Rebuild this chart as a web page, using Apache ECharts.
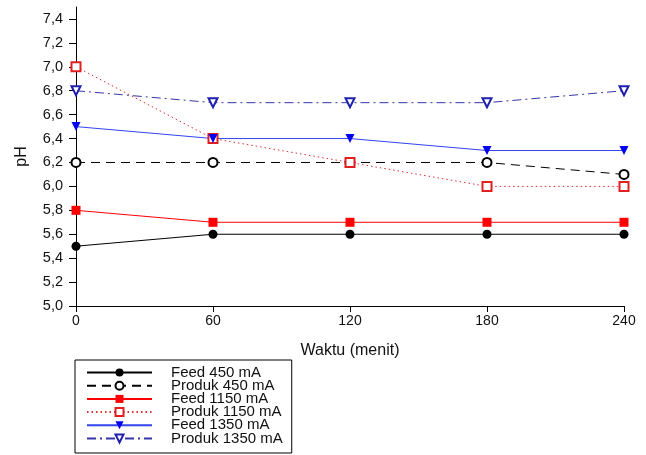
<!DOCTYPE html>
<html>
<head>
<meta charset="utf-8">
<script src="https://cdn.jsdelivr.net/npm/echarts@6/dist/echarts.min.js"></script>
<style>html,body{margin:0;padding:0;background:#fff}#c{width:646px;height:455px}</style>
</head>
<body>
<div id="c"></div>
<script>
const times = [0, 60, 120, 180, 240];
const feed450 = [5.5, 5.6, 5.6, 5.6, 5.6];
const produk450 = [6.2, 6.2, 6.2, 6.2, 6.1];
const feed1150 = [5.8, 5.7, 5.7, 5.7, 5.7];
const produk1150 = [7.0, 6.4, 6.2, 6.0, 6.0];
const feed1350 = [6.5, 6.4, 6.4, 6.3, 6.3];
const produk1350 = [6.8, 6.7, 6.7, 6.7, 6.8];
const yTicks = [5.0, 5.2, 5.4, 5.6, 5.8, 6.0, 6.2, 6.4, 6.6, 6.8, 7.0, 7.2, 7.4];
const xTicks = [0, 60, 120, 180, 240];

const pair = arr => times.map((t, i) => [t, arr[i]]);
const font = 'Liberation Sans, Arial, sans-serif';

function mk(name, data, color, lineColor, lineType, symbol, rotate) {
  return {
    name, type: 'line', data: pair(data),
    symbol, symbolSize: 9, symbolRotate: rotate || 0,
    showSymbol: true,
    lineStyle: { color: lineColor, width: 1, type: lineType },
    itemStyle: { color: color, borderWidth: 1.2 },
    emphasis: { disabled: true },
    z: 2
  };
}

const chart = echarts.init(document.getElementById('c'), null, { renderer: 'canvas' });
chart.setOption({
  animation: false,
  backgroundColor: '#fff',
  textStyle: { fontFamily: font },
  grid: { left: 76, right: 22, top: 7, bottom: 149, containLabel: false },
  xAxis: {
    type: 'value', min: 0, max: 240, interval: 60,
    name: 'Waktu (menit)', nameLocation: 'middle', nameGap: 37,
    nameTextStyle: { fontSize: 16, color: '#111', fontFamily: font },
    axisLine: { show: true, lineStyle: { color: '#000', width: 1 } },
    axisTick: { show: true, inside: false, length: 6, lineStyle: { color: '#000' }, customValues: xTicks },
    axisLabel: { fontSize: 14, color: '#111', margin: 8, fontFamily: font, customValues: xTicks },
    splitLine: { show: false }
  },
  yAxis: {
    type: 'value', min: 5.0, max: 7.5, interval: 0.2,
    name: 'pH', nameLocation: 'middle', nameGap: 46, nameRotate: 90,
    nameTextStyle: { fontSize: 16, color: '#111', fontFamily: font },
    axisLine: { show: true, lineStyle: { color: '#000', width: 1 } },
    axisTick: { show: true, inside: false, length: 7, lineStyle: { color: '#000' }, customValues: yTicks },
    axisLabel: { fontSize: 14.5, color: '#111', margin: 13, fontFamily: font, customValues: yTicks,
      formatter: v => v.toFixed(1).replace('.', ',') },
    splitLine: { show: false }
  },
  legend: {
    orient: 'vertical', left: 75, top: 360,
    padding: [5, 9, 7, 11],
    borderColor: '#000', borderWidth: 1, borderRadius: 0,
    itemWidth: 65, itemHeight: 10, itemGap: -1.8,
    textStyle: { fontSize: 15, lineHeight: 13, color: '#111', fontFamily: font, padding: [0, 0, 0, 14] },
    data: ['Feed 450 mA', 'Produk 450 mA', 'Feed 1150 mA', 'Produk 1150 mA', 'Feed 1350 mA', 'Produk 1350 mA']
  },
  series: [
    mk('Feed 450 mA', feed450, '#000', '#000', 'solid', 'circle'),
    mk('Produk 450 mA', produk450, '#000', '#000', [9, 6], 'emptyCircle'),
    mk('Feed 1150 mA', feed1150, '#f00', '#f00', 'solid', 'rect'),
    mk('Produk 1150 mA', produk1150, '#e02020', '#e03030', [1.5, 3], 'emptyRect'),
    mk('Feed 1350 mA', feed1350, '#0000f0', '#3344ee', 'solid', 'triangle', 180),
    mk('Produk 1350 mA', produk1350, '#2020b0', '#3535a8', [9, 4, 2, 4], 'emptyTriangle', 180)
  ]
});
</script>
</body>
</html>
